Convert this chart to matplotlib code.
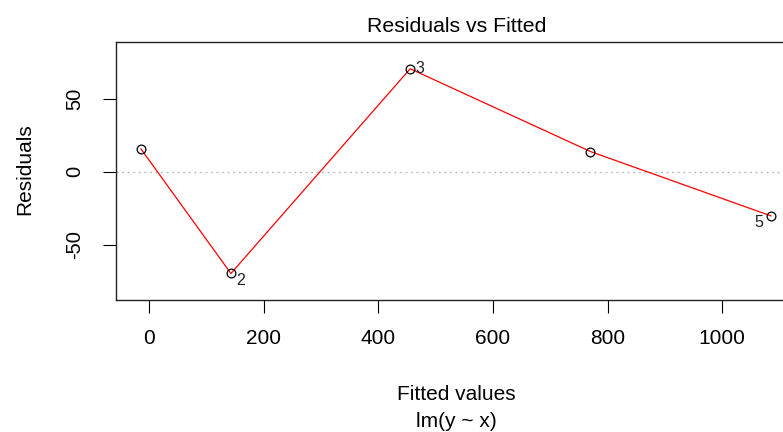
import matplotlib
matplotlib.use("Agg")
import matplotlib.pyplot as plt

# Data
fitted = [-14.5, 142.6, 455.5, 770.0, 1085.0]
residuals = [15.6, -69.6, 70.4, 13.8, -30.2]
point_ids = ["1", "2", "3", "4", "5"]
labelled = {"2": (7, -5), "3": (7, 0), "5": (-9, -5)}
x_ticks = [0, 200, 400, 600, 800, 1000]
y_ticks = [-50, 0, 50]
title = "Residuals vs Fitted"
xlabel = "Fitted values"
sublabel = "lm(y ~ x)"
ylabel = "Residuals"

plt.rcParams['font.family'] = ['Liberation Sans', 'DejaVu Sans']

W, H = 783, 432
fig = plt.figure(figsize=(W / 100, H / 100), dpi=100)
ax = fig.add_axes([115.7 / W, (H - 299.5) / H, 680.4 / W, 257.8 / H])

ax.axhline(0, color='#BEBEBE', lw=1.0, linestyle=(0, (1.5, 2.5)), zorder=1)
order = sorted(range(len(fitted)), key=lambda i: fitted[i])
ax.plot([fitted[i] for i in order], [residuals[i] for i in order],
        color='red', lw=0.9, zorder=2)
ax.plot(fitted, residuals, linestyle='none', marker='o', markersize=6.3,
        markerfacecolor='none', markeredgecolor='black', markeredgewidth=0.9,
        zorder=3)

for xi, yi, pid in zip(fitted, residuals, point_ids):
    if pid in labelled:
        dx, dy = labelled[pid]
        ax.annotate(pid, (xi, yi), xytext=(dx, dy), textcoords='offset points',
                    ha='center', va='center', fontsize=11.5, color='#222222')

ax.set_xlim(-58.5, 1129)
ax.set_ylim(-87.4, 88.9)
ax.set_xticks(x_ticks)
ax.set_yticks(y_ticks)
ax.set_xticklabels([str(t) for t in x_ticks])
ax.set_yticklabels([str(t) for t in y_ticks])
ax.tick_params(axis='x', length=9, width=0.8, pad=12, labelsize=15)
ax.tick_params(axis='y', length=9.4, width=0.8, pad=13.5, labelsize=14.5,
               labelrotation=90)
for lab in ax.get_yticklabels():
    lab.set_va('center')
for s in ax.spines.values():
    s.set_linewidth(1.0)
    s.set_color('#222222')

fig.text(457 / W, (H - 31.7) / H, title, ha='center', va='baseline', fontsize=15.3)
fig.text(456.5 / W, (H - 400) / H, xlabel, ha='center', va='baseline', fontsize=15)
fig.text(456.5 / W, (H - 427) / H, sublabel, ha='center', va='baseline', fontsize=15)
fig.text(25 / W, (H - 169) / H, ylabel, ha='center', va='center', rotation=90, fontsize=15)

fig.savefig("out.png", dpi=100)
